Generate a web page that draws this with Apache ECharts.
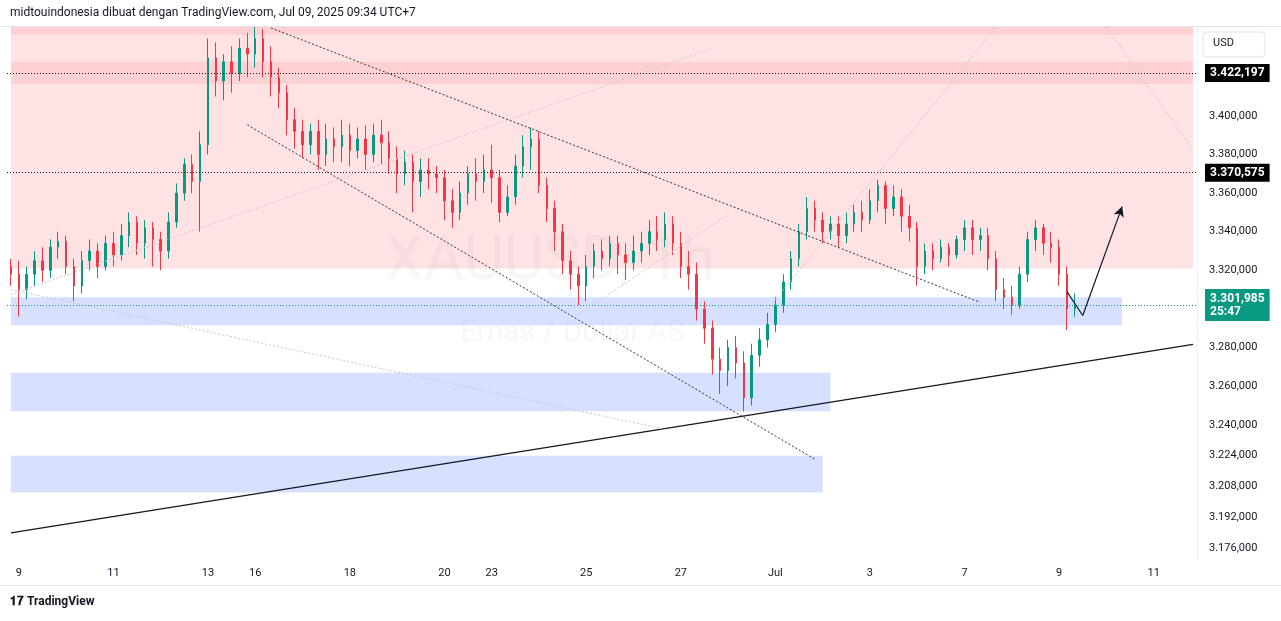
<!DOCTYPE html>
<html>
<head>
<meta charset="utf-8">
<script src="https://cdn.jsdelivr.net/npm/echarts@6/dist/echarts.min.js"></script>
<style>
  html, body { margin: 0; padding: 0; background: #fff; }
  #chart { width: 1281px; height: 621px; }
</style>
</head>
<body>
<div id="chart"></div>
<script>
// 4時間足で読み取った値 [open, close, low, high]
const jun8 = [[3322, 3318, 3312, 3326]]
const week1 = [
  [3318,3310,3296,3325],[3310,3318,3305,3322],[3318,3325,3312,3330],[3325,3320,3314,3332],[3320,3332,3316,3336],[3332,3335,3326,3340],
  [3335,3322,3318,3338],[3322,3312,3304,3326],[3312,3325,3308,3330],[3325,3330,3320,3336],[3330,3322,3316,3334],[3322,3334,3320,3338],
  [3334,3328,3322,3340],[3328,3338,3325,3344],[3338,3345,3332,3350],[3345,3334,3328,3348],[3334,3342,3326,3346],[3342,3336,3322,3345],
  [3336,3330,3320,3340],[3330,3345,3326,3350],[3345,3360,3342,3365],[3360,3375,3356,3378],[3375,3366,3360,3380],[3366,3385,3340,3392],
  [3385,3430,3380,3440],[3430,3418,3410,3438],[3418,3428,3408,3432],[3428,3422,3412,3436],[3422,3435,3418,3440],[3435,3432,3420,3443]
]
const week2 = [
  [3432,3440,3425,3446],[3440,3428,3420,3445],[3428,3420,3410,3436],[3420,3412,3404,3425],[3412,3398,3390,3416],[3398,3392,3383,3404],
  [3392,3385,3378,3398],[3385,3392,3380,3396],[3392,3380,3372,3398],[3380,3388,3374,3396],[3388,3384,3376,3394],[3384,3390,3376,3398],
  [3390,3382,3374,3396],[3382,3388,3378,3394],[3388,3380,3372,3395],[3380,3390,3376,3396],[3390,3386,3375,3398],[3386,3378,3370,3392],
  [3378,3370,3360,3384],[3370,3376,3364,3382],[3376,3366,3350,3380],[3366,3372,3358,3378],[3372,3370,3362,3378],[3370,3368,3360,3374],
  [3368,3356,3346,3372],[3356,3350,3342,3362],[3350,3360,3346,3366],[3360,3370,3354,3374],[3370,3366,3356,3378],[3366,3372,3360,3380]
]
const week3 = [
  [3372,3368,3355,3385],[3368,3350,3345,3372],[3350,3358,3348,3364],[3358,3374,3354,3380],[3374,3384,3368,3390],[3384,3388,3372,3394],
  [3388,3364,3360,3392],[3364,3352,3345,3368],[3352,3340,3330,3356],[3340,3325,3318,3344],[3325,3318,3310,3330],[3318,3312,3302,3322],
  [3312,3322,3304,3328],[3322,3330,3316,3334],[3330,3326,3320,3336],[3326,3334,3322,3338],[3334,3328,3318,3338],[3328,3324,3315,3334],
  [3324,3330,3320,3338],[3330,3334,3324,3340],[3334,3340,3328,3346],[3340,3336,3330,3348],[3336,3344,3332,3350],[3344,3334,3328,3348],
  [3334,3322,3316,3340],[3322,3318,3310,3330],[3318,3300,3294,3324],[3300,3290,3282,3304],[3290,3274,3266,3294],[3274,3268,3256,3280]
]
const week4 = [
  [3268,3280,3260,3284],[3280,3272,3264,3286],[3272,3254,3247,3278],[3254,3276,3250,3282],[3276,3284,3270,3290],[3284,3292,3280,3298],
  [3292,3302,3288,3306],[3302,3314,3298,3318],[3314,3326,3310,3330],[3326,3340,3322,3344],[3340,3352,3336,3358],[3352,3346,3340,3356],
  [3346,3340,3334,3350],[3340,3344,3336,3348],[3344,3338,3332,3348],[3338,3344,3334,3350],[3344,3350,3340,3354],[3350,3346,3340,3356],
  [3346,3356,3344,3362],[3356,3364,3350,3367],[3364,3352,3344,3366],[3352,3358,3348,3364],[3358,3348,3340,3362],[3348,3342,3335,3354],
  [3342,3322,3312,3345],[3322,3330,3318,3334],[3330,3326,3320,3334],[3326,3332,3324,3336],[3332,3328,3322,3334],[3328,3336,3326,3338]
]
const week5 = [
  [3336,3342,3330,3346],[3342,3336,3328,3346],[3336,3338,3330,3342],[3338,3326,3320,3342],[3326,3310,3304,3330],[3310,3306,3300,3316],
  [3306,3302,3297,3312],[3302,3318,3300,3322],[3318,3336,3314,3340],[3336,3342,3330,3346],[3342,3334,3328,3344],[3334,3332,3324,3340],
  [3332,3318,3312,3336],[3318,3300,3289,3322],[3300,3302,3296,3308]
]
const candles = [].concat(jun8, week1, week2, week3, week4, week5)

// 日付(取引日)とラベル
const days = ['9','10','11','12','13','16','17','18','19','20','23','24','25','26','27','30','Jul','2','3','4','7','8','9','10','11']
const shownDays = [0, 2, 4, 5, 7, 9, 10, 12, 14, 16, 18, 20, 22, 24]
const slotsPerDay = 6
const totalSlots = 151
const yTicks = [3176, 3192, 3208, 3224, 3240, 3260, 3280, 3320, 3340, 3360, 3380, 3400]

const categories = []
const catLabel = {}
for (let i = 0; i < totalSlots; i++) {
  const key = 's' + i
  categories.push(key)
  const d = (i - 1) / slotsPerDay
  if (i >= 1 && Number.isInteger(d) && shownDays.includes(d)) catLabel[key] = days[d]
}

const fmtPrice = v => '3.' + String(Math.floor(v) - 3000).padStart(3, '0') + ',' + String(Math.round((v % 1) * 1000)).padStart(3, '0')

const upColor = '#089981'
const downColor = '#f23645'
const pink = 'rgba(247,82,95,0.17)'
const pinkDark = 'rgba(242,54,69,0.10)'
const blue = 'rgba(41,98,255,0.19)'

const seg = (x1, y1, x2, y2, style) => [{ coord: [x1, y1], lineStyle: style }, { coord: [x2, y2] }]
const dotted = { color: '#333', type: [2, 2], width: 1 }
const faint = { color: '#c9c9c9', type: [2, 2], width: 1 }

const chart = echarts.init(document.getElementById('chart'))
chart.setOption({
  animation: false,
  backgroundColor: '#fff',
  grid: { left: 7, right: 84, top: 27, bottom: 61 },
  xAxis: {
    type: 'category',
    data: categories,
    boundaryGap: true,
    axisLine: { show: false },
    axisTick: { show: false },
    splitLine: { show: false },
    axisLabel: { interval: 0, color: '#131722', fontSize: 11, fontFamily: 'Roboto', margin: 8,
      formatter: v => catLabel[v] || '' }
  },
  yAxis: {
    type: 'value',
    position: 'right',
    min: 3170, max: 3446, interval: 2,
    axisLine: { show: true, lineStyle: { color: '#eef0f4' } },
    axisTick: { show: false },
    splitLine: { show: false },
    axisLabel: { interval: 0, color: '#131722', fontSize: 11, fontFamily: 'Roboto', margin: 12,
      formatter: v => yTicks.includes(v) ? fmtPrice(v) : '' }
  },
  graphic: [
    { type: 'text', left: 10, top: 7, style: { text: 'midtouindonesia dibuat dengan TradingView.com, Jul 09, 2025 09:34 UTC+7', fill: '#131722', font: '12px Roboto' } },
    { type: 'rect', shape: { x: 0, y: 26, width: 1281, height: 1 }, style: { fill: '#e0e3eb' } },
    { type: 'rect', shape: { x: 0, y: 585, width: 1281, height: 1 }, style: { fill: '#e0e3eb' } },
    { type: 'text', left: 385, top: 232, z: 10, style: { text: 'XAUUSD, 1h', fill: 'rgba(150,150,150,0.08)', font: '62px Roboto' } },
    { type: 'text', left: 460, top: 318, z: 10, style: { text: 'Emas / Dollar AS', fill: 'rgba(150,150,150,0.08)', font: '30px Roboto' } },
    { type: 'rect', z: 20, shape: { x: 1203, y: 32, width: 62, height: 25, r: 4 }, style: { fill: '#fff', stroke: '#e0e3eb' } },
    { type: 'text', z: 21, left: 1213, top: 38, style: { text: 'USD', fill: '#131722', font: '11px Roboto' } },
    { type: 'text', left: 10, top: 596, style: { text: '𝟏𝟕 TradingView', fill: '#131722', font: 'bold 12px Roboto' } }
  ],
  series: [
    {
      type: 'candlestick',
      data: candles,
      barWidth: 2,
      itemStyle: { color: upColor, color0: downColor, borderColor: upColor, borderColor0: downColor, borderWidth: 1 },
      markArea: {
        silent: true,
        data: [
          [{ xAxis: 0, yAxis: 3321, itemStyle: { color: pink } }, { xAxis: 150, yAxis: 3446 }],
          [{ xAxis: 0, yAxis: 3442, itemStyle: { color: pinkDark } }, { xAxis: 150, yAxis: 3446 }],
          [{ xAxis: 0, yAxis: 3416.5, itemStyle: { color: pinkDark } }, { xAxis: 150, yAxis: 3428 }],
          [{ xAxis: 0, yAxis: 3291.5, itemStyle: { color: blue } }, { xAxis: 141, yAxis: 3306 }],
          [{ xAxis: 0, yAxis: 3247, itemStyle: { color: blue } }, { xAxis: 104, yAxis: 3267 }],
          [{ xAxis: 0, yAxis: 3205, itemStyle: { color: blue } }, { xAxis: 103, yAxis: 3224 }]
        ]
      }
    },
    {
      type: 'line',
      data: [],
      markLine: {
        silent: true,
        symbol: ['none', 'none'],
        label: { show: false },
        data: [
          seg(0, 3184, 150, 3281.7, { color: '#131722', type: 'solid', width: 1.2 }),
          seg(33, 3445.5, 123, 3303.4, dotted),
          seg(30, 3395.3, 102, 3222.2, dotted),
          seg(0, 3307.5, 89, 3435, faint),
          seg(0, 3310, 83, 3237.7, faint),
          seg(72, 3297, 91, 3349, faint),
          seg(96, 3299.7, 124.5, 3446, faint),
          seg(138.5, 3446, 150, 3382.4, faint),
          seg(134, 3309, 136.4, 3296.6, { color: '#131722', type: 'solid', width: 1.2 }),
          [{ coord: [136.4, 3296.6], symbol: 'none', lineStyle: { color: '#131722', type: 'solid', width: 1.2 } },
           { coord: [140.6, 3353], symbol: 'arrow', symbolSize: [8, 10] }]
        ]
      }
    },
    {
      type: 'line',
      data: [],
      markLine: {
        silent: true,
        symbol: ['none', 'none'],
        data: [
          { yAxis: 3422.197, lineStyle: { color: '#131722', type: [1, 2], width: 1 },
            label: { position: 'end', distance: 8, formatter: '3.422,197', color: '#fff', backgroundColor: '#000', padding: [3, 5], fontSize: 12, fontWeight: 'bold', fontFamily: 'Roboto' } },
          { yAxis: 3370.575, lineStyle: { color: '#131722', type: [1, 2], width: 1 },
            label: { position: 'end', distance: 8, formatter: '3.370,575', color: '#fff', backgroundColor: '#000', padding: [3, 5], fontSize: 12, fontWeight: 'bold', fontFamily: 'Roboto' } },
          { yAxis: 3301.985, lineStyle: { color: upColor, type: [1, 2], width: 1 },
            label: { position: 'end', distance: 8, formatter: '3.301,985\n25:47', color: '#fff', backgroundColor: upColor, padding: [3, 5], fontSize: 12, fontWeight: 'bold', lineHeight: 13, fontFamily: 'Roboto' } }
        ]
      }
    }
  ]
})
</script>
</body>
</html>
